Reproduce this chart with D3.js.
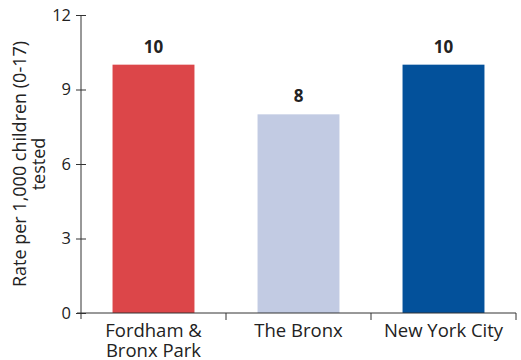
<!DOCTYPE html>
<html>
<head>
<meta charset="utf-8">
<script src="https://cdn.jsdelivr.net/npm/d3@7"></script>
<style>
  html, body { margin: 0; padding: 0; background: #fff; }
  svg text { font-family: "Open Sans", sans-serif; fill: #222; }
</style>
</head>
<body>
<svg id="chart" width="521" height="360"></svg>
<script>
const categories = [["Fordham &", "Bronx Park"], ["The Bronx"], ["New York City"]];
const values = [10, 8, 10];
const colors = ["#DC4649", "#C2CBE3", "#03519B"];
const yTicks = [0, 3, 6, 9, 12];
const yTitle = ["Rate per 1,000 children (0-17)", "tested"];

const svg = d3.select("#chart");
const margin = { left: 81, right: 5, top: 15, bottom: 47 };
const W = 521, H = 360;
const FONT = "Open Sans, sans-serif";

const x = d3.scaleBand()
  .domain(d3.range(categories.length))
  .range([margin.left, W - margin.right])
  .paddingInner(0.435)
  .paddingOuter(0.2175);

const y = d3.scaleLinear().domain([0, 12]).range([H - margin.bottom, margin.top]);

// bars
svg.selectAll("rect.bar").data(values).join("rect")
  .attr("class", "bar")
  .attr("x", (d, i) => x(i))
  .attr("width", x.bandwidth())
  .attr("y", d => y(d))
  .attr("height", d => y(0) - y(d))
  .attr("fill", (d, i) => colors[i]);

// value labels
svg.selectAll("text.val").data(values).join("text")
  .attr("class", "val")
  .attr("x", (d, i) => x(i) + x.bandwidth() / 2)
  .attr("y", d => y(d) - 12)
  .attr("text-anchor", "middle")
  .attr("font-size", 17)
  .attr("font-weight", "bold")
  .text(d => d);

// y axis
const yAxis = d3.axisLeft(y).tickValues(yTicks).tickSize(5).tickSizeOuter(0).tickPadding(5);
const gy = svg.append("g").attr("transform", `translate(${margin.left},0)`).call(yAxis);
gy.select(".domain").remove();
gy.selectAll(".tick line").attr("x1", 5).attr("x2", -5).attr("stroke", "#333");
gy.selectAll(".tick text").attr("font-size", 16.5).style("font-family", FONT).attr("fill", "#222");
gy.append("line").attr("x1", 0).attr("x2", 0).attr("y1", y(12)).attr("y2", y(0) + 6).attr("stroke", "#333");

// x axis with boundary ticks between categories
const gx = svg.append("g");
gx.append("line").attr("x1", margin.left - 4).attr("x2", W - margin.right)
  .attr("y1", y(0)).attr("y2", y(0)).attr("stroke", "#333");
const bounds = d3.range(1, categories.length + 1).map(i => margin.left + (x.range()[1] - margin.left) * i / categories.length);
gx.selectAll("line.b").data(bounds).join("line")
  .attr("class", "b")
  .attr("x1", d => d).attr("x2", d => d)
  .attr("y1", y(0)).attr("y2", y(0) + 7).attr("stroke", "#333");

// category labels, one text element per line
categories.forEach((lines, i) => {
  lines.forEach((l, j) => svg.append("text")
    .attr("x", x(i) + x.bandwidth() / 2)
    .attr("y", 337 + j * 20)
    .attr("text-anchor", "middle")
    .attr("font-size", 18.5)
    .text(l));
});

// y axis title, two rotated lines
yTitle.forEach((l, j) => svg.append("text")
  .attr("transform", `translate(${26 + j * 19},${(y(0) + y(12)) / 2}) rotate(-90)`)
  .attr("text-anchor", "middle")
  .attr("font-size", 18)
  .text(l));
</script>
</body>
</html>
